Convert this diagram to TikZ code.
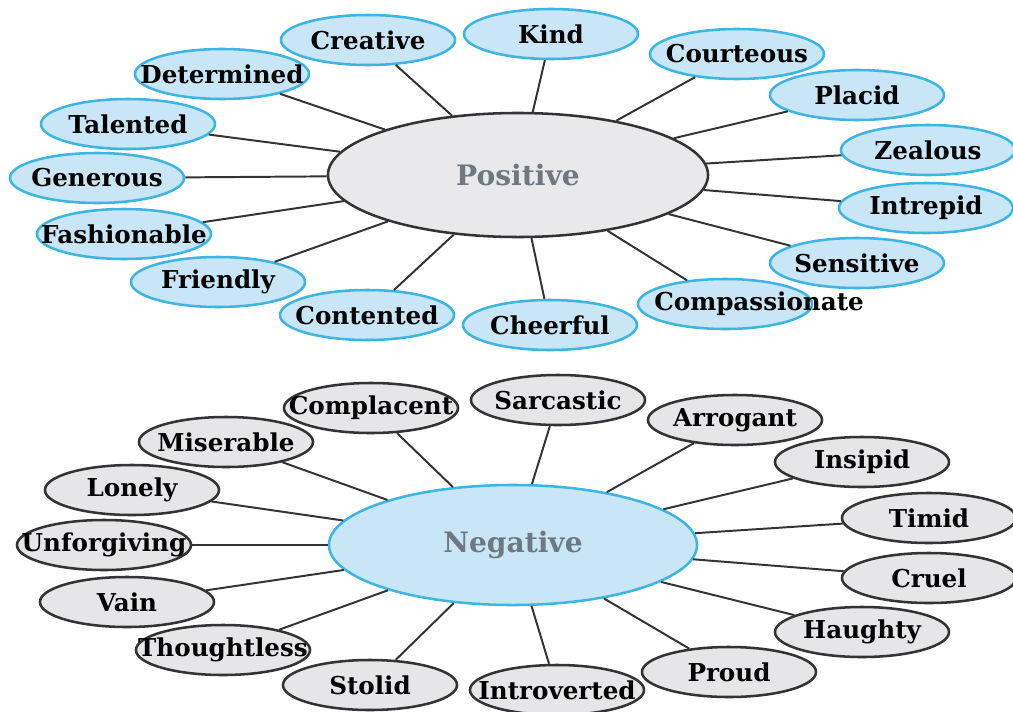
\documentclass[tikz,border=0pt]{standalone}
\usepackage{fontspec}
\setmainfont{DejaVu Serif}
\usepackage{xcolor}
\usetikzlibrary{shapes.geometric}

\definecolor{leafblue}{HTML}{C8E6F6}
\definecolor{rimblue}{HTML}{3DB5E2}
\definecolor{leafgray}{HTML}{E6E6E8}
\definecolor{hubgray}{HTML}{E9E9EB}
\definecolor{hubtext}{HTML}{6E7880}
\newcommand{\trait}[1]{\makebox[0pt][c]{#1}}

\begin{document}
\begin{tikzpicture}[x=0.025cm,y=-0.025cm,
  leaf/.style={ellipse,inner sep=0pt,minimum width=4.35cm,minimum height=1.25cm,line width=1.8pt,
    font=\bfseries\fontsize{17.5}{17.5}\selectfont},
  posleaf/.style={leaf,draw=rimblue,fill=leafblue},
  negleaf/.style={leaf,draw=black!80,fill=leafgray},
  hub/.style={ellipse,inner sep=0pt,line width=1.8pt,text=hubtext,
    font=\bfseries\fontsize{20}{20}\selectfont},
  spoke/.style={line width=1.4pt,black!80}]
\useasboundingbox (0,0) rectangle (1013,711);

% positive traits
\node[hub,draw=black!80,fill=hubgray,minimum width=9.5cm,minimum height=3.1cm] (pos) at (518,175) {Positive};
\node[posleaf] (creative) at (368,40) {\trait{Creative}};
\node[posleaf] (kind) at (551,34) {\trait{Kind}};
\node[posleaf] (courteous) at (737,54) {\trait{Courteous}};
\node[posleaf] (placid) at (857,95) {\trait{Placid}};
\node[posleaf] (zealous) at (928,150) {\trait{Zealous}};
\node[posleaf] (intrepid) at (926,208) {\trait{Intrepid}};
\node[posleaf] (sensitive) at (857,263) {\trait{Sensitive}};
\node[posleaf] (compassionate) at (725,304) {\hspace*{1.7cm}\trait{Compassionate}};
\node[posleaf] (cheerful) at (550,325) {\trait{Cheerful}};
\node[posleaf] (contented) at (367,315) {\trait{Contented}};
\node[posleaf] (friendly) at (218,282) {\trait{Friendly}};
\node[posleaf] (fashionable) at (124,234) {\trait{Fashionable}};
\node[posleaf] (generous) at (97,178) {\trait{Generous}};
\node[posleaf] (talented) at (128,124) {\trait{Talented}};
\node[posleaf] (determined) at (222,74) {\trait{Determined}};

\foreach \t in {creative,kind,courteous,placid,zealous,intrepid,sensitive,compassionate,
  cheerful,contented,friendly,fashionable,generous,talented,determined}
  \draw[spoke] (pos) -- (\t);

% negative traits
\node[hub,draw=rimblue,fill=leafblue,minimum width=9.2cm,minimum height=3.0cm] (neg) at (513,545) {Negative};
\node[negleaf] (complacent) at (371,408) {\trait{Complacent}};
\node[negleaf] (sarcastic) at (558,400) {\trait{Sarcastic}};
\node[negleaf] (arrogant) at (735,420) {\trait{Arrogant}};
\node[negleaf] (insipid) at (862,462) {\trait{Insipid}};
\node[negleaf] (timid) at (929,518) {\trait{Timid}};
\node[negleaf] (cruel) at (929,578) {\trait{Cruel}};
\node[negleaf] (haughty) at (862,632) {\trait{Haughty}};
\node[negleaf] (proud) at (729,672) {\trait{Proud}};
\node[negleaf] (introverted) at (557,690) {\trait{Introverted}};
\node[negleaf] (stolid) at (370,685) {\trait{Stolid}};
\node[negleaf] (thoughtless) at (223,650) {\trait{Thoughtless}};
\node[negleaf] (vain) at (127,602) {\trait{Vain}};
\node[negleaf] (unforgiving) at (104,545) {\trait{Unforgiving}};
\node[negleaf] (lonely) at (132,490) {\trait{Lonely}};
\node[negleaf] (miserable) at (226,442) {\trait{Miserable}};

\foreach \t in {complacent,sarcastic,arrogant,insipid,timid,cruel,haughty,proud,
  introverted,stolid,thoughtless,vain,unforgiving,lonely,miserable}
  \draw[spoke] (neg) -- (\t);
\end{tikzpicture}
\end{document}
